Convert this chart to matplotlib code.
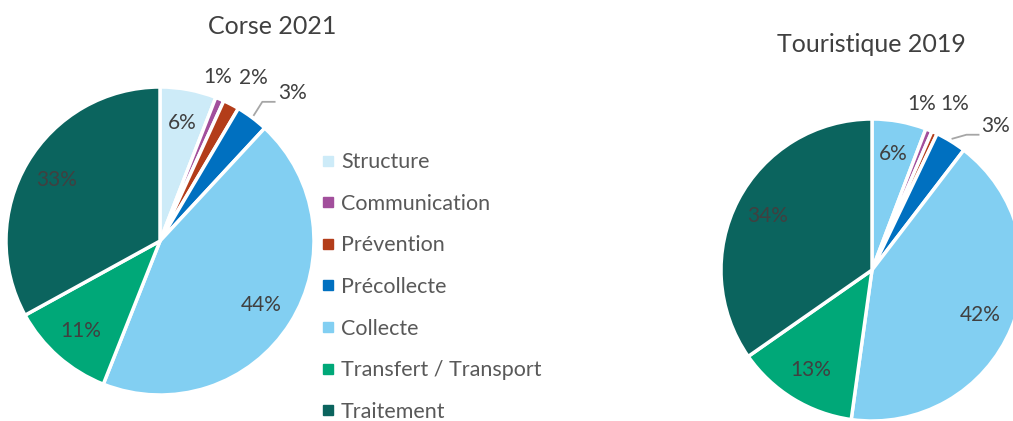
import numpy as np
import matplotlib
matplotlib.use("Agg")
import matplotlib.pyplot as plt
from matplotlib.lines import Line2D

plt.rcParams['font.family'] = ['Lato', 'DejaVu Sans']

categories = ["Structure", "Communication", "Prévention", "Précollecte",
              "Collecte", "Transfert / Transport", "Traitement"]
corse_2021 = [5.9, 0.9, 1.7, 3.4, 44.1, 11.0, 33.0]
touristique_2019 = [5.8, 0.7, 0.6, 3.3, 41.8, 13.1, 34.7]
corse_labels = ["6%", "1%", "2%", "3%", "44%", "11%", "33%"]
touristique_labels = ["6%", "1%", "1%", "3%", "42%", "13%", "34%"]

colors_left = ["#cdebf8", "#a24f9c", "#b33d1a", "#0070c0", "#82cff2", "#00a878", "#0b645e"]
colors_right = ["#82cff2", "#a24f9c", "#b33d1a", "#0070c0", "#82cff2", "#00a878", "#0b645e"]

W, H = 1013, 421
fig = plt.figure(figsize=(W / 100, H / 100), dpi=100)

def pie_axes(cx, cy, r):
    # cx, cy, r in pixels (cy from top)
    ax = fig.add_axes([(cx - r) / W, (H - cy - r) / H, 2 * r / W, 2 * r / H])
    ax.axis("off")
    return ax

def draw_pie(ax, values, labels, colors, outside):
    wedges, _ = ax.pie(values, colors=colors, startangle=90, counterclock=False,
                       radius=1.0, wedgeprops=dict(edgecolor="white", linewidth=2.5))
    ax.set_xlim(-1, 1)
    ax.set_ylim(-1, 1)
    for i, w in enumerate(wedges):
        mid = np.deg2rad((w.theta1 + w.theta2) / 2)
        if i in outside:
            r, dth, leader = outside[i]
            a = mid - np.deg2rad(dth)
            x, y = r * np.cos(a), r * np.sin(a)
            if leader:
                x0, y0 = 1.02 * np.cos(mid), 1.02 * np.sin(mid)
                ax.plot([x0, x - 0.10, x - 0.02], [y0, y - 0.06, y - 0.06],
                        color="#a6a6a6", lw=1.3, clip_on=False)
                ax.text(x, y, labels[i], ha="left", va="center", fontsize=15,
                        color="#404040")
            else:
                ax.text(x, y, labels[i], ha="center", va="center", fontsize=15,
                        color="#404040")
        else:
            ax.text(0.78 * np.cos(mid), 0.78 * np.sin(mid), labels[i],
                    ha="center", va="center", fontsize=15, color="#404040")
    return wedges

ax1 = pie_axes(160, 241, 154)
draw_pie(ax1, corse_2021, corse_labels, colors_left,
         {1: (1.13, -3.4, False), 2: (1.22, 2.1, False), 3: (1.23, 1.7, True)})
ax2 = pie_axes(872, 270, 151)
draw_pie(ax2, touristique_2019, touristique_labels, colors_right,
         {1: (1.15, -5.6, False), 2: (1.23, 2.1, False), 3: (1.2, 5.7, True)})

fig.text(272 / W, 1 - 27 / H, "Corse 2021", ha="center", va="center",
         fontsize=18, color="#404040")
fig.text(871 / W, 1 - 45 / H, "Touristique 2019", ha="center", va="center",
         fontsize=18, color="#404040")

handles = [Line2D([], [], marker="s", ls="", markersize=6.5, color=c) for c in colors_left]
fig.legend(handles, categories, loc="center left",
           bbox_to_anchor=(312 / W, 1 - 287 / H), frameon=False, fontsize=15.5,
           labelcolor="#595959", handlelength=0.5, handletextpad=0.35,
           labelspacing=1.0, borderpad=0)

fig.savefig("out.png", dpi=100, facecolor="white")
